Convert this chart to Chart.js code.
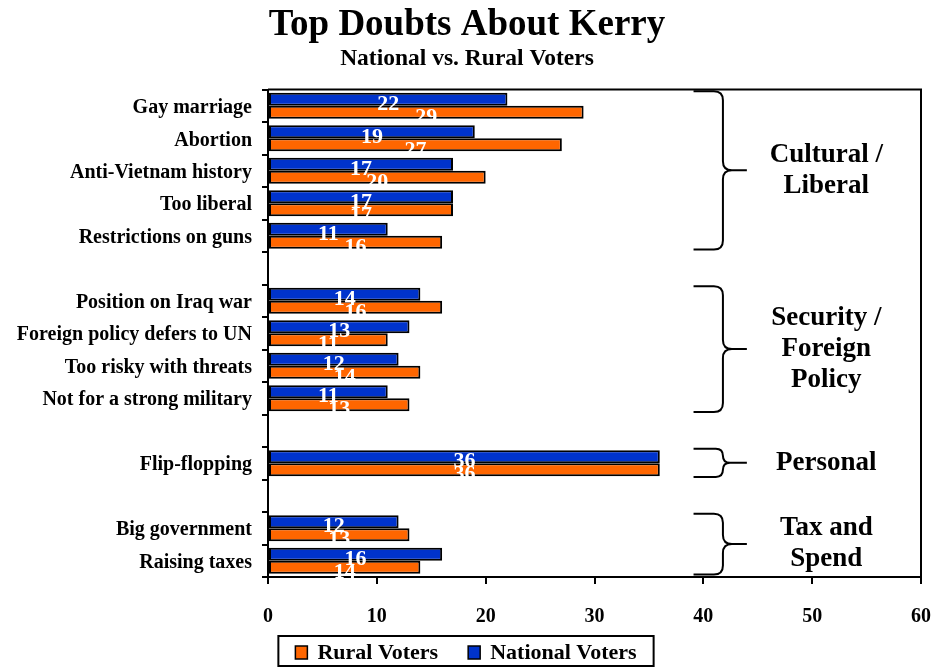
<!DOCTYPE html>
<html>
<head>
<meta charset="utf-8">
<title>Top Doubts About Kerry</title>
<script src="https://cdn.jsdelivr.net/npm/chart.js@4.4.1/dist/chart.umd.min.js"></script>
<style>
    html, body { margin: 0; padding: 0; background: #fff; }
    #contenedor { width: 934px; height: 667px; }
</style>
</head>
<body>
<div id="contenedor"><canvas id="dudasChart" width="934" height="667"></canvas></div>
<script>
// Categorías ('' deja un hueco entre grupos)
const categorias = [
    'Gay marriage', 'Abortion', 'Anti-Vietnam history', 'Too liberal', 'Restrictions on guns', '',
    'Position on Iraq war', 'Foreign policy defers to UN', 'Too risky with threats', 'Not for a strong military', '',
    'Flip-flopping', '',
    'Big government', 'Raising taxes'
];
const votantesNacionales = [22, 19, 17, 17, 11, null, 14, 13, 12, 11, null, 36, null, 12, 16];
const votantesRurales = [29, 27, 20, 17, 16, null, 16, 11, 14, 13, null, 36, null, 13, 14];
const ticksX = [0, 10, 20, 30, 40, 50, 60];

// Grupos de la derecha: texto y primera/última categoría que abarca cada llave
const gruposTexto = [['Cultural /', 'Liberal'], ['Security /', 'Foreign', 'Policy'], ['Personal'], ['Tax and', 'Spend']];
const gruposInicio = [0, 6, 11, 13];
const gruposFin = [4, 9, 11, 14];

const fuente = '"Liberation Serif", "Times New Roman", serif';
const azul = '#0033CC';
const naranja = '#FF6600';

// Etiquetas de valor, marco, llaves y leyenda
const extrasPlugin = {
    id: 'extras',
    afterDatasetsDraw(chart) {
        const ctx = chart.ctx;
        ctx.save();
        ctx.fillStyle = '#fff';
        ctx.font = 'bold 22px ' + fuente;
        ctx.textAlign = 'center';
        ctx.textBaseline = 'middle';
        chart.data.datasets.forEach((ds, i) => {
            const meta = chart.getDatasetMeta(i);
            meta.data.forEach((bar, j) => {
                const v = ds.data[j];
                if (v === null || v === undefined) return;
                ctx.fillText(String(v), (bar.base + bar.x) / 2, bar.y + 5);
            });
        });
        ctx.restore();
    },
    afterDraw(chart) {
        const { ctx, chartArea } = chart;
        const xScale = chart.scales.x;
        const yScale = chart.scales.y;
        ctx.save();

        // lados superior y derecho del marco
        ctx.strokeStyle = '#000';
        ctx.lineWidth = 2;
        ctx.beginPath();
        ctx.moveTo(chartArea.left, chartArea.top);
        ctx.lineTo(chartArea.right, chartArea.top);
        ctx.lineTo(chartArea.right, chartArea.bottom);
        ctx.stroke();

        // llaves de grupo
        const slot = yScale.getPixelForValue(1) - yScale.getPixelForValue(0);
        const xL = xScale.getPixelForValue(39.1);
        const xS = xScale.getPixelForValue(41.8);
        const xT = xScale.getPixelForValue(44);
        const xTexto = xScale.getPixelForValue(51.3);
        gruposTexto.forEach((lineas, g) => {
            const y0 = yScale.getPixelForValue(gruposInicio[g]) - slot * 0.45;
            const y1 = yScale.getPixelForValue(gruposFin[g]) + slot * 0.42;
            const ym = (y0 + y1) / 2;
            const r = Math.min(9, (ym - y0) / 2);
            ctx.beginPath();
            ctx.moveTo(xL, y0);
            ctx.lineTo(xS - r, y0);
            ctx.quadraticCurveTo(xS, y0, xS, y0 + r);
            ctx.lineTo(xS, ym - r);
            ctx.quadraticCurveTo(xS, ym, xS + r, ym);
            ctx.lineTo(xT, ym);
            ctx.moveTo(xS + r, ym);
            ctx.quadraticCurveTo(xS, ym, xS, ym + r);
            ctx.lineTo(xS, y1 - r);
            ctx.quadraticCurveTo(xS, y1, xS - r, y1);
            ctx.lineTo(xL, y1);
            ctx.stroke();

            ctx.fillStyle = '#000';
            ctx.font = 'bold 27px ' + fuente;
            ctx.textAlign = 'center';
            ctx.textBaseline = 'middle';
            const alto = 31;
            lineas.forEach((t, k) => {
                ctx.fillText(t, xTexto, ym + (k - (lineas.length - 1) / 2) * alto);
            });
        });

        // leyenda con recuadro (rural primero)
        const items = chart.data.datasets.slice().reverse();
        ctx.font = 'bold 22px ' + fuente;
        ctx.textAlign = 'left';
        ctx.textBaseline = 'middle';
        const cuadro = 12, sep = 10, entre = 30, margen = 17;
        const anchos = items.map(ds => ctx.measureText(ds.label).width);
        let total = margen * 2 + entre * (items.length - 1);
        anchos.forEach(w => { total += cuadro + sep + w; });
        const top = chart.height - 31;
        const alto = 30;
        const cy = top + alto / 2 + 2;
        let x = chart.width / 2 - 1 - total / 2;
        ctx.lineWidth = 2;
        ctx.strokeRect(x, top, total, alto);
        x += margen;
        items.forEach((ds, k) => {
            ctx.fillStyle = ds.backgroundColor;
            ctx.fillRect(x, cy - 7, cuadro, 13);
            ctx.lineWidth = 1.5;
            ctx.strokeRect(x, cy - 7, cuadro, 13);
            x += cuadro + sep;
            ctx.fillStyle = '#000';
            ctx.fillText(ds.label, x, cy);
            x += anchos[k] + entre;
        });
        ctx.restore();
    }
};

const ctxDudas = document.getElementById('dudasChart').getContext('2d');
const dudasChart = new Chart(ctxDudas, {
    type: 'bar',
    data: {
        labels: categorias,
        datasets: [{
            label: 'National Voters',
            data: votantesNacionales,
            backgroundColor: azul
        }, {
            label: 'Rural Voters',
            data: votantesRurales,
            backgroundColor: naranja
        }]
    },
    options: {
        indexAxis: 'y',
        responsive: false,
        animation: false,
        devicePixelRatio: 1,
        layout: { padding: { top: 0, left: 0, right: 0, bottom: 37 } },
        datasets: {
            bar: {
                categoryPercentage: 0.8,
                barPercentage: 1.0,
                borderColor: '#000',
                borderWidth: 2,
                borderSkipped: false
            }
        },
        scales: {
            x: {
                min: 0,
                max: 60,
                afterBuildTicks(scale) {
                    scale.ticks = ticksX.map(v => ({ value: v }));
                },
                ticks: {
                    color: '#000',
                    padding: 21,
                    font: { family: fuente, size: 20, weight: 'bold' }
                },
                grid: { drawOnChartArea: false, color: '#000', lineWidth: 2, tickLength: 7 },
                border: { color: '#000', width: 2 },
                afterFit(scale) {
                    scale.height = 53;
                    // margen derecho fijo para el "60"
                    scale.paddingRight = 13;
                }
            },
            y: {
                ticks: {
                    color: '#000',
                    padding: 10,
                    labelOffset: 2,
                    autoSkip: false,
                    font: { family: fuente, size: 20, weight: 'bold' }
                },
                grid: { drawOnChartArea: false, offset: true, color: '#000', lineWidth: 2, tickLength: 6 },
                border: { color: '#000', width: 2 },
                afterFit(scale) { scale.width = 268; }
            }
        },
        plugins: {
            title: {
                display: true,
                text: 'Top Doubts About Kerry',
                color: '#000',
                font: { family: fuente, size: 37, weight: 'bold', lineHeight: 1.2 },
                padding: { top: 3, bottom: 0 }
            },
            subtitle: {
                display: true,
                text: 'National vs. Rural Voters',
                color: '#000',
                font: { family: fuente, size: 23.5, weight: 'bold', lineHeight: 1.2 },
                padding: { top: -3, bottom: 17 }
            },
            legend: { display: false },
            tooltip: { enabled: false }
        }
    },
    plugins: [extrasPlugin]
});
</script>
</body>
</html>
